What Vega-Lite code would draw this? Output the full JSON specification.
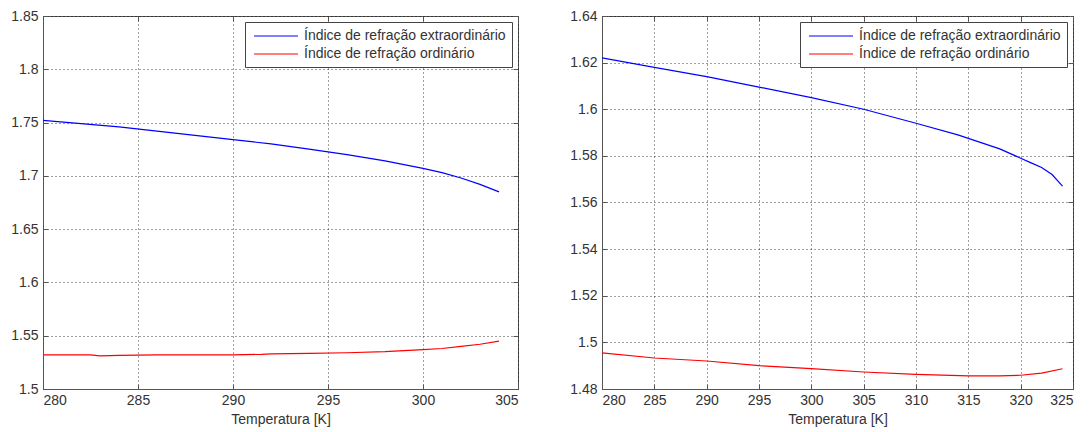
{
  "$schema": "https://vega.github.io/schema/vega-lite/v6.json",
  "autosize": {"type": "pad"},
  "padding": {"left": 10, "top": 8, "right": 0, "bottom": 0},
  "background": "white",
  "bounds": "flush",
  "spacing": 84,
  "config": {
    "font": "Liberation Sans",
    "view": {"stroke": "#555", "strokeWidth": 1},
    "axis": {
      "labelFont": "Liberation Sans", "labelFontSize": 14, "labelColor": "#333",
      "titleFont": "Liberation Sans", "titleFontSize": 14, "titleColor": "#333", "titleFontWeight": "normal",
      "domainColor": "#555", "tickColor": "#555", "tickSize": -5,
      "gridColor": "#000", "gridDash": [1, 3], "gridOpacity": 0.75, "gridWidth": 1
    },
    "legend": {
      "labelFont": "Liberation Sans", "labelFontSize": 14, "labelColor": "#333", "labelLimit": 400,
      "strokeColor": "#444", "fillColor": "white", "padding": 6,
      "symbolType": "M-3,0H3", "symbolSize": 215, "symbolStrokeWidth": 1.2, "symbolOffset": 17,
      "labelOffset": 20, "rowPadding": 3, "offset": 6, "orient": "top-right", "title": null
    }
  },
  "datasets": {
    "esquerda": [
      {"T": 280, "n": 1.752, "serie": "Índice de refração extraordinário"},
      {"T": 282, "n": 1.749, "serie": "Índice de refração extraordinário"},
      {"T": 284, "n": 1.746, "serie": "Índice de refração extraordinário"},
      {"T": 286, "n": 1.742, "serie": "Índice de refração extraordinário"},
      {"T": 288, "n": 1.738, "serie": "Índice de refração extraordinário"},
      {"T": 290, "n": 1.734, "serie": "Índice de refração extraordinário"},
      {"T": 292, "n": 1.730, "serie": "Índice de refração extraordinário"},
      {"T": 294, "n": 1.725, "serie": "Índice de refração extraordinário"},
      {"T": 296, "n": 1.720, "serie": "Índice de refração extraordinário"},
      {"T": 298, "n": 1.714, "serie": "Índice de refração extraordinário"},
      {"T": 300, "n": 1.707, "serie": "Índice de refração extraordinário"},
      {"T": 301, "n": 1.703, "serie": "Índice de refração extraordinário"},
      {"T": 302, "n": 1.698, "serie": "Índice de refração extraordinário"},
      {"T": 303, "n": 1.692, "serie": "Índice de refração extraordinário"},
      {"T": 304, "n": 1.685, "serie": "Índice de refração extraordinário"},
      {"T": 280, "n": 1.532, "serie": "Índice de refração ordinário"},
      {"T": 282.5, "n": 1.532, "serie": "Índice de refração ordinário"},
      {"T": 283, "n": 1.531, "serie": "Índice de refração ordinário"},
      {"T": 284, "n": 1.5315, "serie": "Índice de refração ordinário"},
      {"T": 286, "n": 1.532, "serie": "Índice de refração ordinário"},
      {"T": 290, "n": 1.532, "serie": "Índice de refração ordinário"},
      {"T": 291.5, "n": 1.5325, "serie": "Índice de refração ordinário"},
      {"T": 292, "n": 1.533, "serie": "Índice de refração ordinário"},
      {"T": 294, "n": 1.5335, "serie": "Índice de refração ordinário"},
      {"T": 296, "n": 1.534, "serie": "Índice de refração ordinário"},
      {"T": 298, "n": 1.535, "serie": "Índice de refração ordinário"},
      {"T": 300, "n": 1.537, "serie": "Índice de refração ordinário"},
      {"T": 301, "n": 1.538, "serie": "Índice de refração ordinário"},
      {"T": 302, "n": 1.540, "serie": "Índice de refração ordinário"},
      {"T": 303, "n": 1.542, "serie": "Índice de refração ordinário"},
      {"T": 304, "n": 1.545, "serie": "Índice de refração ordinário"}
    ],
    "direita": [
      {"T": 280, "n": 1.622, "serie": "Índice de refração extraordinário"},
      {"T": 285, "n": 1.618, "serie": "Índice de refração extraordinário"},
      {"T": 290, "n": 1.614, "serie": "Índice de refração extraordinário"},
      {"T": 295, "n": 1.6095, "serie": "Índice de refração extraordinário"},
      {"T": 300, "n": 1.605, "serie": "Índice de refração extraordinário"},
      {"T": 305, "n": 1.600, "serie": "Índice de refração extraordinário"},
      {"T": 310, "n": 1.594, "serie": "Índice de refração extraordinário"},
      {"T": 314, "n": 1.589, "serie": "Índice de refração extraordinário"},
      {"T": 316, "n": 1.586, "serie": "Índice de refração extraordinário"},
      {"T": 318, "n": 1.583, "serie": "Índice de refração extraordinário"},
      {"T": 320, "n": 1.579, "serie": "Índice de refração extraordinário"},
      {"T": 321, "n": 1.577, "serie": "Índice de refração extraordinário"},
      {"T": 322, "n": 1.575, "serie": "Índice de refração extraordinário"},
      {"T": 323, "n": 1.572, "serie": "Índice de refração extraordinário"},
      {"T": 324, "n": 1.567, "serie": "Índice de refração extraordinário"},
      {"T": 280, "n": 1.4955, "serie": "Índice de refração ordinário"},
      {"T": 285, "n": 1.4933, "serie": "Índice de refração ordinário"},
      {"T": 290, "n": 1.492, "serie": "Índice de refração ordinário"},
      {"T": 295, "n": 1.490, "serie": "Índice de refração ordinário"},
      {"T": 300, "n": 1.4887, "serie": "Índice de refração ordinário"},
      {"T": 305, "n": 1.4873, "serie": "Índice de refração ordinário"},
      {"T": 310, "n": 1.4863, "serie": "Índice de refração ordinário"},
      {"T": 315, "n": 1.4856, "serie": "Índice de refração ordinário"},
      {"T": 318, "n": 1.4856, "serie": "Índice de refração ordinário"},
      {"T": 320, "n": 1.4859, "serie": "Índice de refração ordinário"},
      {"T": 322, "n": 1.4868, "serie": "Índice de refração ordinário"},
      {"T": 324, "n": 1.4887, "serie": "Índice de refração ordinário"}
    ]
  },
  "resolve": {"legend": {"color": "independent"}, "scale": {"x": "independent", "y": "independent"}},
  "hconcat": [
    {
      "width": 475,
      "height": 373,
      "data": {"name": "esquerda"},
      "resolve": {"axis": {"x": "independent", "y": "independent"}},
      "layer": [
        {
          "mark": {"type": "line", "strokeWidth": 1.2, "clip": true},
          "encoding": {
            "x": {"field": "T", "type": "quantitative", "title": "Temperatura [K]",
              "scale": {"domain": [280, 305], "nice": false, "zero": false},
              "axis": {"orient": "bottom", "values": [280, 285, 290, 295, 300, 305], "format": "~g", "labelPadding": 9, "titlePadding": 5}},
            "y": {"field": "n", "type": "quantitative", "title": null,
              "scale": {"domain": [1.5, 1.85], "nice": false, "zero": false},
              "axis": {"orient": "left", "values": [1.5, 1.55, 1.6, 1.65, 1.7, 1.75, 1.8, 1.85], "format": "~g", "labelPadding": 10}},
            "color": {"field": "serie", "type": "nominal",
              "scale": {"domain": ["Índice de refração extraordinário", "Índice de refração ordinário"], "range": ["#0000ff", "#ff0000"]}}
          }
        },
        {
          "mark": {"type": "line", "opacity": 0},
          "encoding": {
            "x": {"field": "T", "type": "quantitative",
              "scale": {"domain": [280, 305], "nice": false, "zero": false},
              "axis": {"orient": "top", "values": [280, 285, 290, 295, 300, 305], "labels": false, "grid": false, "domain": false, "title": null}},
            "y": {"field": "n", "type": "quantitative",
              "scale": {"domain": [1.5, 1.85], "nice": false, "zero": false},
              "axis": {"orient": "right", "values": [1.5, 1.55, 1.6, 1.65, 1.7, 1.75, 1.8, 1.85], "labels": false, "grid": false, "domain": false, "title": null}}
          }
        }
      ]
    },
    {
      "width": 471,
      "height": 373,
      "data": {"name": "direita"},
      "resolve": {"axis": {"x": "independent", "y": "independent"}},
      "layer": [
        {
          "mark": {"type": "line", "strokeWidth": 1.2, "clip": true},
          "encoding": {
            "x": {"field": "T", "type": "quantitative", "title": "Temperatura [K]",
              "scale": {"domain": [280, 325], "nice": false, "zero": false},
              "axis": {"orient": "bottom", "values": [280, 285, 290, 295, 300, 305, 310, 315, 320, 325], "format": "~g", "labelPadding": 9, "titlePadding": 5}},
            "y": {"field": "n", "type": "quantitative", "title": null,
              "scale": {"domain": [1.48, 1.64], "nice": false, "zero": false},
              "axis": {"orient": "left", "values": [1.48, 1.5, 1.52, 1.54, 1.56, 1.58, 1.6, 1.62, 1.64], "format": "~g", "labelPadding": 10}},
            "color": {"field": "serie", "type": "nominal",
              "scale": {"domain": ["Índice de refração extraordinário", "Índice de refração ordinário"], "range": ["#0000ff", "#ff0000"]}}
          }
        },
        {
          "mark": {"type": "line", "opacity": 0},
          "encoding": {
            "x": {"field": "T", "type": "quantitative",
              "scale": {"domain": [280, 325], "nice": false, "zero": false},
              "axis": {"orient": "top", "values": [280, 285, 290, 295, 300, 305, 310, 315, 320, 325], "labels": false, "grid": false, "domain": false, "title": null}},
            "y": {"field": "n", "type": "quantitative",
              "scale": {"domain": [1.48, 1.64], "nice": false, "zero": false},
              "axis": {"orient": "right", "values": [1.48, 1.5, 1.52, 1.54, 1.56, 1.58, 1.6, 1.62, 1.64], "labels": false, "grid": false, "domain": false, "title": null}}
          }
        }
      ]
    }
  ]
}
